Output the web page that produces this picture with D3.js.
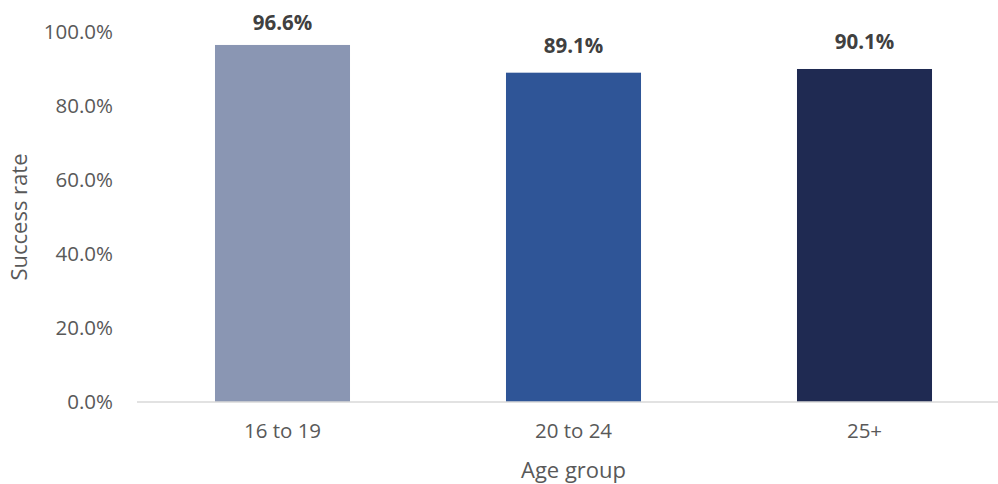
<!DOCTYPE html>
<html>
<head>
<meta charset="utf-8">
<script src="https://cdn.jsdelivr.net/npm/d3@7"></script>
<style>
  html, body { margin: 0; padding: 0; background: #fff; }
  svg { display: block; font-family: "Open Sans", "Noto Sans", sans-serif; }
</style>
</head>
<body>
<svg id="chart" width="998" height="484"></svg>
<script>
// Success rate by age group
const categories = ["16 to 19", "20 to 24", "25+"];
const successRates = [96.6, 89.1, 90.1];
const barColors = ["#8a96b3", "#2f5597", "#1f2a52"];
const yTicks = [0, 20, 40, 60, 80, 100];

const svg = d3.select("#chart");
const width = 998, height = 484;

const plot = { left: 137, right: 1010, top: 32.4, bottom: 402 };

const x = d3.scaleBand()
  .domain(categories)
  .range([plot.left, plot.right])
  .paddingInner(0.536)
  .paddingOuter(0.268);

const y = d3.scaleLinear()
  .domain([0, 100])
  .range([plot.bottom, plot.top]);

// Bars
svg.append("g")
  .selectAll("rect")
  .data(categories)
  .join("rect")
  .attr("x", d => x(d))
  .attr("width", x.bandwidth())
  .attr("y", (d, i) => y(successRates[i]))
  .attr("height", (d, i) => y(0) - y(successRates[i]))
  .attr("fill", (d, i) => barColors[i]);

// Baseline
svg.append("line")
  .attr("x1", plot.left).attr("x2", width)
  .attr("y1", y(0)).attr("y2", y(0))
  .attr("stroke", "#d9d9d9")
  .attr("stroke-width", 1.5);

// Y axis labels
const yAxis = d3.axisLeft(y)
  .tickValues(yTicks)
  .tickFormat(d => d.toFixed(1) + "%")
  .tickSize(0)
  .tickPadding(0);

const yg = svg.append("g")
  .attr("transform", "translate(113,0)")
  .call(yAxis);
yg.select(".domain").remove();
yg.selectAll("text")
  .attr("fill", "#595959")
  .style("font-size", "20.5px")
  .style("font-family", "'Open Sans', sans-serif");

// X axis labels
const xAxis = d3.axisBottom(x).tickSize(0).tickPadding(0);
const xg = svg.append("g")
  .attr("transform", "translate(0,423)")
  .call(xAxis);
xg.select(".domain").remove();
xg.selectAll("text")
  .attr("fill", "#595959")
  .style("font-size", "20.5px")
  .style("font-family", "'Open Sans', sans-serif");

// Value labels, kept inside the chart area
svg.append("g")
  .selectAll("text")
  .data(categories)
  .join("text")
  .attr("x", d => x(d) + x.bandwidth() / 2)
  .attr("y", (d, i) => Math.max(y(successRates[i]) - 20, 30))
  .attr("text-anchor", "middle")
  .attr("fill", "#404040")
  .style("font-size", "20.5px")
  .style("font-weight", "bold")
  .text((d, i) => successRates[i].toFixed(1) + "%");

// Axis titles
svg.append("text")
  .attr("x", (plot.left + 1010) / 2)
  .attr("y", 478)
  .attr("text-anchor", "middle")
  .attr("fill", "#595959")
  .style("font-size", "22px")
  .text("Age group");

svg.append("text")
  .attr("transform", "translate(27,217) rotate(-90)")
  .attr("text-anchor", "middle")
  .attr("fill", "#595959")
  .style("font-size", "22px")
  .text("Success rate");
</script>
</body>
</html>
